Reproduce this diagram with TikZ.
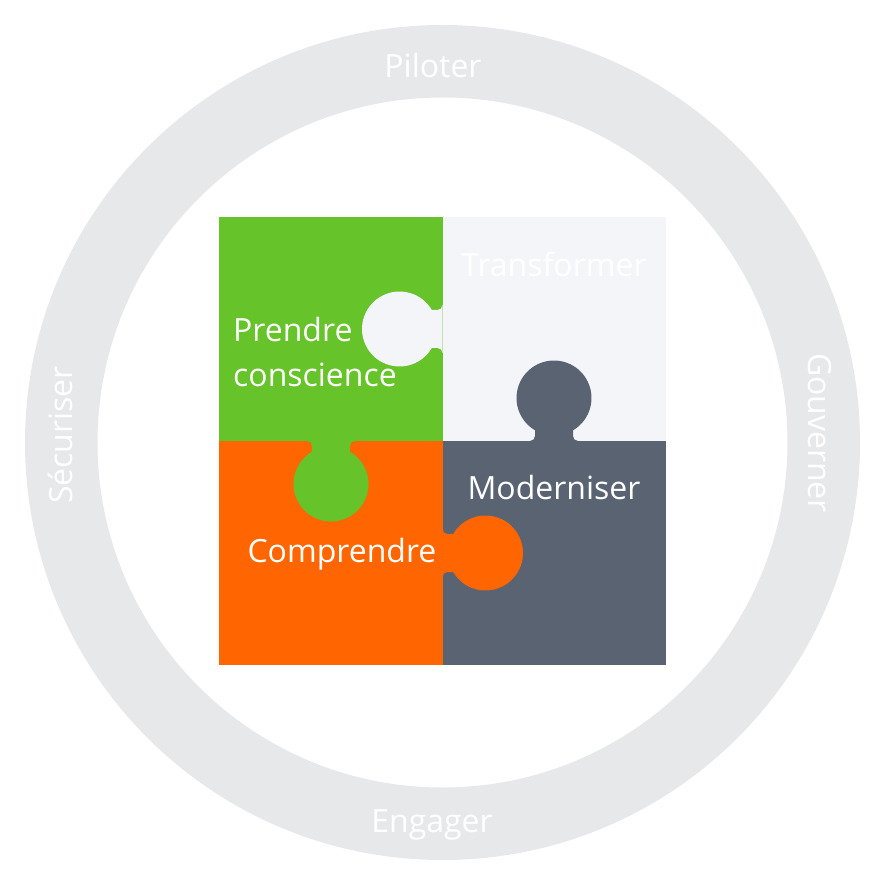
\documentclass[tikz,border=0pt]{standalone}
\usepackage{fontspec}
\setmainfont{Open Sans}
\usepackage{xcolor}
\definecolor{ringcolor}{RGB}{231,232,234}
\definecolor{greencolor}{RGB}{102,195,41}
\definecolor{orangecolor}{RGB}{255,101,0}
\definecolor{slatecolor}{RGB}{89,99,113}
\definecolor{palecolor}{RGB}{244,245,249}
\tikzset{
    piecetext/.style={text=white, inner sep=0pt, font=\fontsize{32}{45}\selectfont},
    ringtext/.style={text=white, inner sep=0pt, font=\fontsize{32}{38}\selectfont}
}
% knob: base point, direction, colour
\newcommand{\puzzleknob}[3]{%
    \fill[#3, shift={#1}, rotate=#2]
        (0,-24) arc[start angle=180, end angle=90, radius=5]
        -- (10.67,-19) arc[start angle=210.44, end angle=509.56, radius=37.5]
        -- (5,19) arc[start angle=270, end angle=180, radius=5] -- cycle;
}

\begin{document}
\begin{tikzpicture}[x=1pt, y=1pt]

    \useasboundingbox (-442.5,-445) rectangle (443.5,441);

    % ring
    \fill[ringcolor, even odd rule] (0,-1.5) circle[radius=417.5] (0,-1.5) circle[radius=345];

    % four pieces
    \fill[greencolor] (-223.5,0) rectangle (0,223.5);
    \fill[palecolor] (0,0) rectangle (223.5,223.5);
    \fill[orangecolor] (-223.5,-223.5) rectangle (0,0);
    \fill[slatecolor] (0,-223.5) rectangle (223.5,0);

    % knobs
    \puzzleknob{(0,112)}{180}{palecolor}
    \puzzleknob{(111.5,0)}{90}{slatecolor}
    \puzzleknob{(-111.5,0)}{-90}{greencolor}
    \puzzleknob{(0,-112)}{0}{orangecolor}

    % piece texts
    \node[piecetext, anchor=base west, align=left] (prendre) at (-209.5,54) {Prendre\\conscience};
    \node[piecetext, anchor=base] (transformer) at (111.5,164) {Transformer};
    \node[piecetext, anchor=base] (moderniser) at (111.5,-59) {Moderniser};
    \node[piecetext, anchor=base] (comprendre) at (-100.5,-121) {Comprendre};

    % ring texts
    \node[ringtext, anchor=base] (piloter) at (-9.5,363) {Piloter};
    \node[ringtext, anchor=base] (engager) at (-10.5,-391) {Engager};
    \node[ringtext, anchor=base, rotate=90] (securiser) at (-369.5,6) {Sécuriser};
    \node[ringtext, anchor=base, rotate=-90] (gouverner) at (365.5,8) {Gouverner};

\end{tikzpicture}
\end{document}
